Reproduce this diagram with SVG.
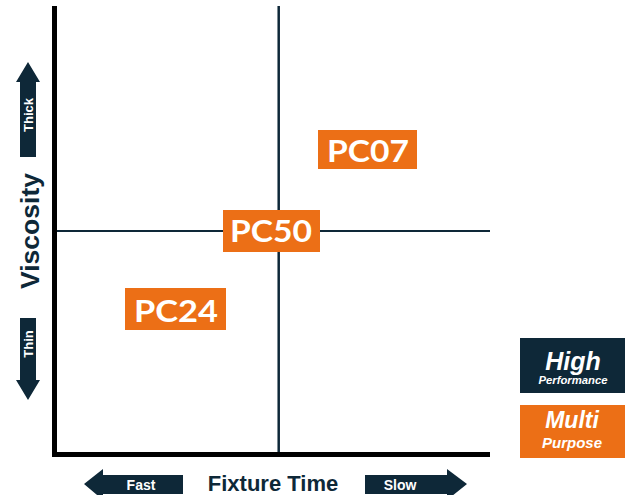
<svg xmlns="http://www.w3.org/2000/svg" width="628" height="495" viewBox="0 0 628 495">
<style>
.navy{fill:#0e2838}
.orange{fill:#ec6f16}
.pc{font-family:"Lato","Open Sans",sans-serif;font-weight:700;font-size:30px;fill:#fff;text-anchor:middle}
.lab{font-family:"Liberation Sans",Arial,sans-serif;font-weight:700;fill:#fff;text-anchor:middle}
.axis{font-family:"Liberation Sans",Arial,sans-serif;font-weight:700;fill:#0e2838;text-anchor:middle}
</style>
<rect width="628" height="495" fill="#fff"/>
<g id="connectors">
<line x1="278.7" y1="6" x2="278.7" y2="453" stroke="#0e2838" stroke-width="2.5"/>
<line x1="57" y1="231" x2="490" y2="231" stroke="#0e2838" stroke-width="2.2"/>
<rect x="52" y="6" width="5" height="451" fill="#000"/>
<rect x="52" y="452" width="438" height="5" fill="#000"/>
</g>
<g id="y-axis">
<path class="navy" d="M28,62 L40,82 L36,82 L36,157 L20,157 L20,82 L16,82 Z"/>
<text class="lab" font-size="13" transform="translate(32.5,115) rotate(-90)">Thick</text>
<path class="navy" d="M20,318 L36,318 L36,380 L40,380 L28,400 L16,380 L20,380 Z"/>
<text class="lab" font-size="13" transform="translate(32.5,344) rotate(-90)">Thin</text>
<text class="axis" font-size="26.5" transform="translate(38.5,231) rotate(-90)">Viscosity</text>
</g>
<g id="x-axis">
<path class="navy" d="M84,484 L103,469 L103,475 L183,475 L183,494 L103,494 L103,500 Z"/>
<text class="lab" font-size="14" x="141" y="490">Fast</text>
<path class="navy" d="M365,475 L447,475 L447,469 L467,484 L447,500 L447,494 L365,494 Z"/>
<text class="lab" font-size="14" x="400" y="490">Slow</text>
<text class="axis" font-size="22" x="273" y="491">Fixture Time</text>
</g>
<g id="pc07">
<rect class="orange" x="318" y="130" width="99" height="39"/>
<text class="pc" x="368" y="162" textLength="82" lengthAdjust="spacingAndGlyphs">PC07</text>
</g>
<g id="pc50">
<rect class="orange" x="223" y="210" width="97" height="42"/>
<text class="pc" x="271" y="242" textLength="82" lengthAdjust="spacingAndGlyphs">PC50</text>
</g>
<g id="pc24">
<rect class="orange" x="125" y="288" width="101" height="42"/>
<text class="pc" x="176" y="322" textLength="84" lengthAdjust="spacingAndGlyphs">PC24</text>
</g>
<g id="legend-high">
<rect class="navy" x="520" y="338" width="105" height="55"/>
<text class="lab" font-size="25" font-style="italic" x="573" y="370">High</text>
<text class="lab" font-size="11.3" font-style="italic" x="573" y="384">Performance</text>
</g>
<g id="legend-multi">
<rect class="orange" x="520" y="405" width="105" height="53"/>
<text class="lab" font-size="23" font-style="italic" x="572" y="428">Multi</text>
<text class="lab" font-size="15" font-style="italic" x="572" y="448">Purpose</text>
</g>
</svg>
